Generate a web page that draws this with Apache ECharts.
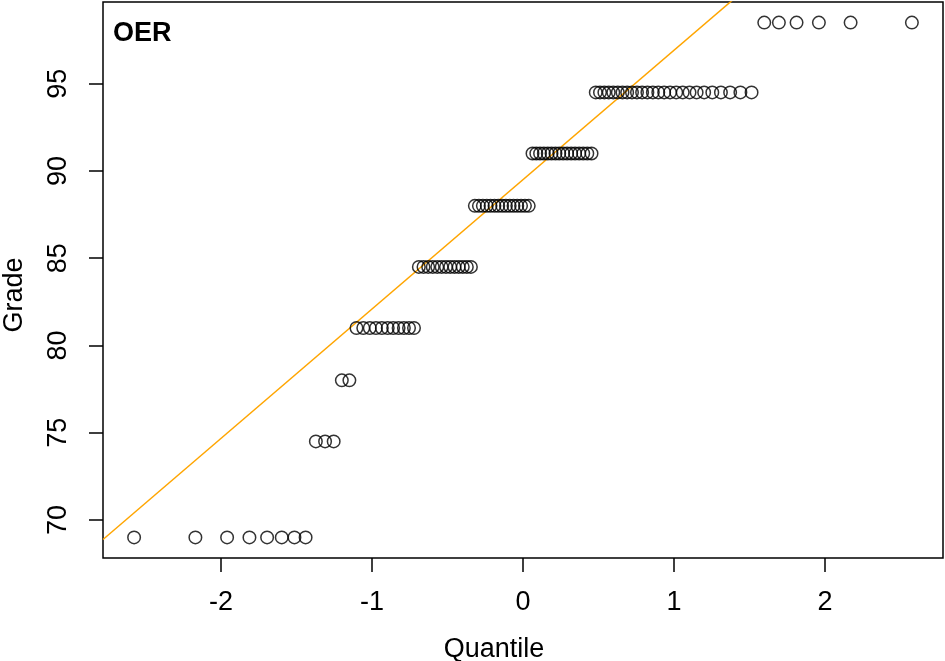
<!DOCTYPE html>
<html>
<head>
<meta charset="utf-8">
<script src="https://cdn.jsdelivr.net/npm/echarts@6/dist/echarts.min.js"></script>
<style>
  html, body { margin: 0; padding: 0; background: #fff; }
  #chart { width: 945px; height: 661px; }
</style>
</head>
<body>
<div id="chart"></div>
<script>
// grade levels and how many students sit on each one (sorted order)
const grades = [69, 74.5, 78, 81, 84.5, 88, 91, 94.5, 98.5]
const counts = [8, 3, 2, 11, 13, 15, 16, 26, 6]

// theoretical normal quantiles for the 100 sorted grades
const quantiles = [
  -2.576, -2.170, -1.960, -1.812, -1.695, -1.598, -1.514, -1.440, -1.372, -1.311,
  -1.254, -1.200, -1.150, -1.103, -1.058, -1.015, -0.974, -0.935, -0.896, -0.860,
  -0.824, -0.789, -0.755, -0.722, -0.690, -0.659, -0.628, -0.598, -0.568, -0.539,
  -0.510, -0.482, -0.454, -0.426, -0.399, -0.372, -0.345, -0.319, -0.292, -0.266,
  -0.240, -0.215, -0.189, -0.164, -0.138, -0.113, -0.088, -0.063, -0.038, -0.013,
  0.013, 0.038, 0.063, 0.088, 0.113, 0.138, 0.164, 0.189, 0.215, 0.240,
  0.266, 0.292, 0.319, 0.345, 0.372, 0.399, 0.426, 0.454, 0.482, 0.510,
  0.539, 0.568, 0.598, 0.628, 0.659, 0.690, 0.722, 0.755, 0.789, 0.824,
  0.860, 0.896, 0.935, 0.974, 1.015, 1.058, 1.103, 1.150, 1.200, 1.254,
  1.311, 1.372, 1.440, 1.514, 1.598, 1.695, 1.812, 1.960, 2.170, 2.576
]

const xTicks = [-2, -1, 0, 1, 2]
const yTicks = [70, 75, 80, 85, 90, 95]

// qqline: through the 1st and 3rd quartiles
const qx = [-0.6745, 0.6745]

const font = 'Liberation Sans, Arial, sans-serif'

let sorted = []
grades.forEach((g, i) => {
  for (let k = 0; k < counts[i]; k++) sorted.push(g)
})
const points = sorted.map((g, i) => [quantiles[i], g])

function quantile7(arr, p) {
  const h = (arr.length - 1) * p
  const lo = Math.floor(h)
  return arr[lo] + (h - lo) * (arr[Math.min(lo + 1, arr.length - 1)] - arr[lo])
}
const qy = [quantile7(sorted, 0.25), quantile7(sorted, 0.75)]
const slope = (qy[1] - qy[0]) / (qx[1] - qx[0])
const intercept = qy[0] - slope * qx[0]

const xMin = -2.782, xMax = 2.782
const yMin = 67.82, yMax = 99.68
const lineData = [xMin, xMax].map(x => [x, intercept + slope * x])

const chart = echarts.init(document.getElementById('chart'))
chart.setOption({
  animation: false,
  title: {
    text: 'OER',
    left: 108,
    top: 15,
    textStyle: { fontFamily: font, fontSize: 27, fontWeight: 'bold', color: '#000' }
  },
  // axis titles sit a bit off-centre in the original, so place them by hand
  graphic: [
    {
      type: 'text', x: 494, y: 650,
      style: { text: 'Quantile', fontFamily: font, fontSize: 27, fill: '#000', align: 'center', verticalAlign: 'middle' }
    },
    {
      type: 'text', x: 15, y: 295, rotation: Math.PI / 2,
      style: { text: 'Grade', fontFamily: font, fontSize: 27, fill: '#000', align: 'center', verticalAlign: 'middle' }
    }
  ],
  grid: {
    left: 103, right: 2, top: 2, bottom: 103,
    containLabel: false,
    outerBoundsMode: 'none',
    show: true, borderColor: '#000', borderWidth: 1.5
  },
  xAxis: {
    type: 'value',
    min: xMin, max: xMax,
    axisLine: { show: false, onZero: false },
    splitLine: { show: false },
    axisTick: { show: true, length: 14, customValues: xTicks, lineStyle: { color: '#000', width: 1.5 } },
    axisLabel: { customValues: xTicks, margin: 31, fontFamily: font, fontSize: 27, color: '#000' }
  },
  yAxis: {
    type: 'value',
    min: yMin, max: yMax,
    axisLine: { show: false, onZero: false },
    splitLine: { show: false },
    axisTick: { show: true, length: 14, customValues: yTicks, lineStyle: { color: '#000', width: 1.5 } },
    axisLabel: { customValues: yTicks, rotate: 90, margin: 31, fontFamily: font, fontSize: 27, color: '#000' }
  },
  series: [
    {
      type: 'line',
      data: lineData,
      showSymbol: false,
      clip: true,
      lineStyle: { color: '#FFA500', width: 1.5 },
      z: 1
    },
    {
      type: 'scatter',
      data: points,
      symbol: 'circle',
      symbolSize: 12.5,
      itemStyle: { color: 'rgba(0,0,0,0)', borderColor: '#000', borderWidth: 1.5 },
      z: 2
    }
  ]
})
</script>
</body>
</html>
